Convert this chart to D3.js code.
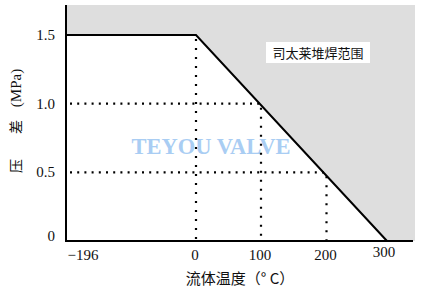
<!DOCTYPE html>
<html><head><meta charset="utf-8">
<script src="https://cdn.jsdelivr.net/npm/d3@7"></script>
<style>body{margin:0;background:#fff}svg{display:block}</style>
</head><body>
<script>
// Data
const xTicks = [-196, 0, 100, 200, 300];
const xTickLabels = ["\u2212196", "0", "100", "200", "300"];
const yTicks = [0, 0.5, 1.0, 1.5];
const yTickLabels = ["0", "0.5", "1.0", "1.5"];
const limitTemp = [-196, 0, 300];
const limitPress = [1.5, 1.5, 0];
const guidePress = [1.5, 1.0, 0.5];
const guideTemp = [0, 100, 200];
const regionLabel = "司太莱堆焊范围";
const xTitle = "流体温度（° C）";
const watermark = "TEYOU VALVE";

const W = 425, H = 292;
const svg = d3.select("body").append("svg").attr("width", W).attr("height", H);

// scales (chart's own non-uniform temperature axis)
const x = d3.scaleLinear().domain([-196, 0, 100, 200, 300, 346]).range([66, 196, 261, 326.5, 387, 415]);
const y = d3.scaleLinear().domain([0, 1.718]).range([241, 5]);
const xMax = 346, yMax = 1.718;

const limit = limitTemp.map((t, i) => [t, limitPress[i]]);

// gray region above the limit line
const regionPts = [[-196, yMax], [xMax, yMax], [xMax, 0]].concat(limit.slice().reverse());
svg.append("path")
  .attr("d", d3.line().x(d => x(d[0])).y(d => y(d[1]))(regionPts) + "Z")
  .attr("fill", "#dedede");

// watermark
svg.append("text").attr("x", 211).attr("y", 154).attr("text-anchor", "middle")
  .attr("font-family", "Liberation Serif").attr("font-weight", "bold").attr("font-size", 22.5)
  .attr("fill", "#a9cdf3").text(watermark);

// dotted guides
const dotted = svg.append("g").attr("stroke", "#000").attr("stroke-width", 2.2).attr("fill", "none");
guideTemp.forEach((t, i) => {
  const p = guidePress[i];
  dotted.append("line").attr("x1", x(t)).attr("x2", x(t)).attr("y1", y(p) + 4).attr("y2", y(0))
    .attr("stroke-dasharray", "2,7");
  if (p < 1.5) {
    dotted.append("line").attr("x1", x(-196) + 4).attr("x2", x(t)).attr("y1", y(p)).attr("y2", y(p))
      .attr("stroke-dasharray", "2,5.2");
  }
});

// limit line
svg.append("path")
  .attr("d", d3.line().x(d => x(d[0])).y(d => y(d[1]))(limit))
  .attr("fill", "none").attr("stroke", "#000").attr("stroke-width", 2);

// axes lines
svg.append("line").attr("x1", x(-196)).attr("x2", x(-196)).attr("y1", y(yMax)).attr("y2", y(0) + 1)
  .attr("stroke", "#000").attr("stroke-width", 2);
svg.append("line").attr("x1", x(-196) - 1).attr("x2", 413).attr("y1", y(0)).attr("y2", y(0))
  .attr("stroke", "#000").attr("stroke-width", 2);

// y tick labels
svg.append("g").selectAll("text").data(yTicks).join("text")
  .attr("x", 55).attr("y", d => y(d) + (d === 0 ? 0 : 5))
  .attr("text-anchor", "end").attr("font-family", "Liberation Serif").attr("font-size", 15)
  .attr("fill", "#111").text((d, i) => yTickLabels[i]);

// x tick labels
svg.append("g").selectAll("text").data(xTicks).join("text")
  .attr("x", (d, i) => i === 0 ? x(d) + 17 : (i === 4 ? x(d) - 3 : x(d) - 1))
  .attr("y", (d, i) => i === 4 ? 257 : 260)
  .attr("text-anchor", "middle").attr("font-family", "Liberation Serif").attr("font-size", 15)
  .attr("fill", "#111").text((d, i) => xTickLabels[i]);

// x title
svg.append("text").attr("x", 240).attr("y", 284).attr("text-anchor", "middle")
  .attr("font-family", "Noto Sans CJK SC").attr("font-size", 15).attr("fill", "#111")
  .attr("xml:space", "preserve").style("white-space", "pre").text(xTitle);

// y title (vertical)
const yt = svg.append("g").attr("font-size", 14).attr("fill", "#111");
yt.append("text").attr("transform", "translate(21,166) rotate(-90)").attr("text-anchor", "middle")
  .attr("font-family", "Noto Sans CJK SC").text("压");
yt.append("text").attr("transform", "translate(21,127) rotate(-90)").attr("text-anchor", "middle")
  .attr("font-family", "Noto Sans CJK SC").text("差");
yt.append("text").attr("transform", "translate(21,88) rotate(-90)").attr("text-anchor", "middle")
  .attr("font-family", "Liberation Serif").attr("font-size", 15).text("(MPa)");

// region label
svg.append("rect").attr("x", 266).attr("y", 42).attr("width", 104).attr("height", 21).attr("fill", "#fff");
svg.append("text").attr("x", 318).attr("y", 57.5).attr("text-anchor", "middle")
  .attr("font-family", "Noto Sans CJK SC").attr("font-size", 13).attr("fill", "#111").text(regionLabel);
</script>
</body></html>
